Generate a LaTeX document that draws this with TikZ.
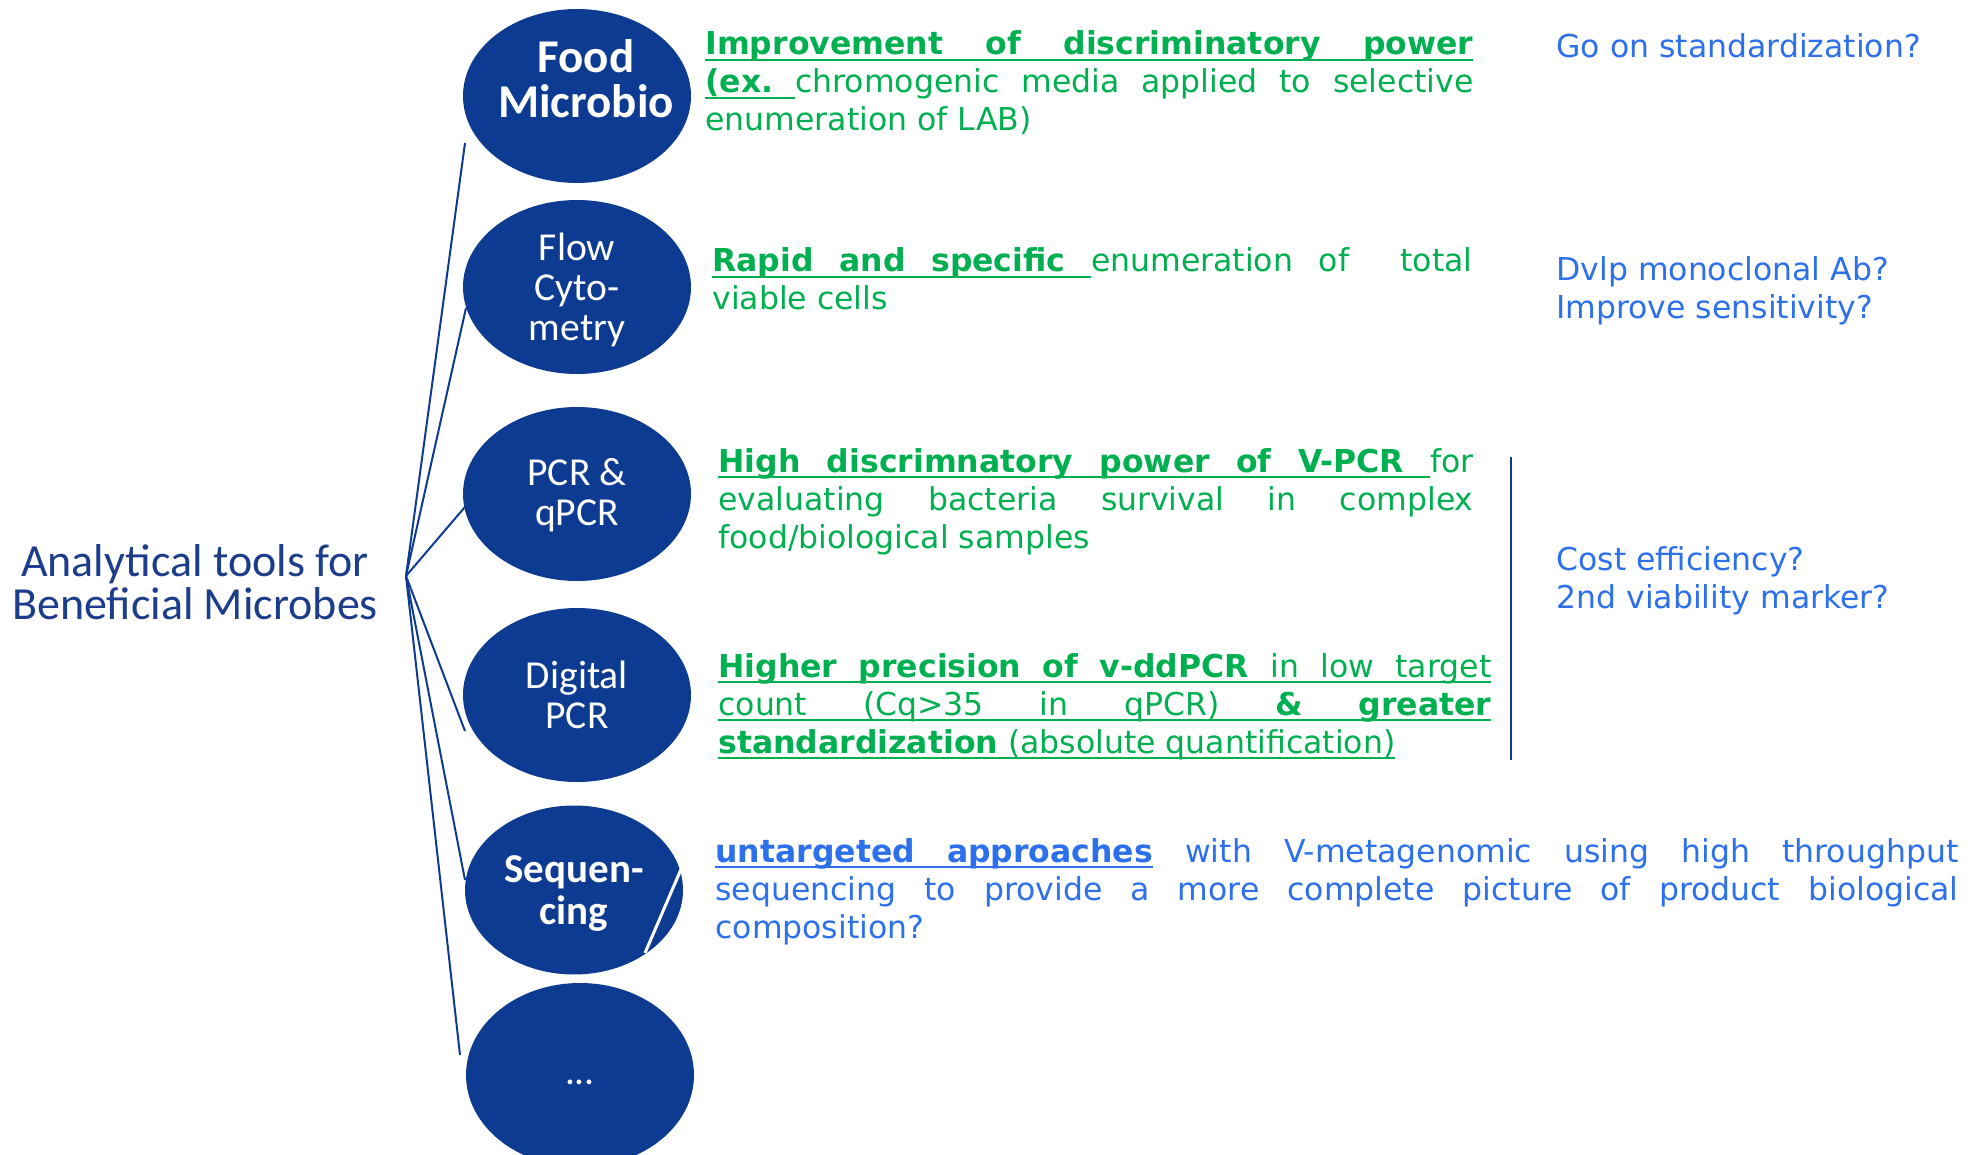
\documentclass[tikz,border=0pt]{standalone}
\usepackage{fontspec}
\setmainfont{DejaVu Sans}
\newfontfamily\calibri{Carlito}
\usetikzlibrary{shapes.geometric}
\definecolor{ellblue}{HTML}{0D3B92}
\definecolor{titleblue}{HTML}{1C3C8C}
\definecolor{ggreen}{HTML}{00B050}
\definecolor{qblue}{HTML}{2D70EC}
\newcommand\myul[1]{\setbox0\hbox{#1}\rlap{\rule[-2.9pt]{\wd0}{0.8pt}}\box0}
\newcommand\ugap{\leaders\hrule height -2.1pt depth 2.9pt\hfill}
\newcommand\lines{\baselineskip=19pt\lineskiplimit=-100pt\lineskip=0pt}
\begin{document}
\begin{tikzpicture}[x=0.5pt,y=-0.5pt,
  oval/.style={ellipse, fill=ellblue, draw=none, inner sep=0, minimum width=114pt, minimum height=87pt},
  ovaltxt/.style={text=white, align=center, inner sep=0, font=\calibri\fontsize{19.8}{20}\selectfont},
  block/.style={anchor=base west, inner sep=0, font=\fontsize{15.75}{19}\selectfont},
  spoke/.style={draw=ellblue, line width=1pt}]
\useasboundingbox (0,0) rectangle (1971,1155);
\clip (0,0) rectangle (1971,1155);

% ellipses
\node[oval] (food) at (577,96) {};
\node[oval] (flow) at (577,287) {};
\node[oval] (pcr) at (577,494) {};
\node[oval] (dig) at (577,695) {};
\node[oval, minimum width=109pt, minimum height=84.5pt] (seq) at (574,890) {};
\node[oval, minimum height=92pt] (more) at (580,1075) {};
\draw[white, line width=1.5pt] (682,867) -- (645,953);

% ellipse labels
\node[ovaltxt, font=\calibri\bfseries\fontsize{23.5}{22.5}\selectfont] (foodT) at (586,79) {Food\\Microbio};
\node[ovaltxt] (flowT) at (577,290) {Flow\\Cyto-\\metry};
\node[ovaltxt] (pcrT) at (577,495.5) {PCR \&\\qPCR};
\node[ovaltxt] (digT) at (577,695) {Digital\\PCR};
\node[ovaltxt, font=\calibri\bfseries\fontsize{20.5}{21}\selectfont] (seqT) at (574,894) {Sequen-\\cing};
\node[ovaltxt] (moreT) at (580,1082) {...};

% title
\node[align=center, text=titleblue, inner sep=0, font=\calibri\fontsize{23}{21.5}\selectfont] (title) at (195,582) {Analytical tools for\\Beneficial Microbes};

% spokes
\coordinate (hub) at (406,576);
\coordinate (eFood) at (465,143);
\coordinate (eFlow) at (466,308);
\coordinate (ePcr) at (482,487);
\coordinate (eDig) at (465,731);
\coordinate (eSeq) at (465,880);
\coordinate (eMore) at (460,1055);
\draw[spoke] (hub) -- (eFood);
\draw[spoke] (hub) -- (eFlow);
\draw[spoke] (hub) -- (ePcr);
\draw[spoke] (hub) -- (eDig);
\draw[spoke] (hub) -- (eSeq);
\draw[spoke] (hub) -- (eMore);

% vertical bracket line
\coordinate (vTop) at (1511,457);
\coordinate (vBot) at (1511,760);
\draw[spoke] (vTop) -- (vBot);

% green blocks
\node[block, text=ggreen] (b1) at (705,55) {\vtop{\lines
\hbox to 384pt{\myul{\bfseries Improvement}\ugap\myul{\bfseries of}\ugap\myul{\bfseries discriminatory}\ugap\myul{\bfseries power}}
\hbox to 384pt{\myul{\bfseries (ex.}\ugap chromogenic\hfill media\hfill applied\hfill to\hfill selective}
\hbox{enumeration of LAB)}}};

\node[block, text=ggreen] (b2) at (712,272) {\vtop{\lines
\hbox to 380pt{\myul{\bfseries Rapid}\ugap\myul{\bfseries and}\ugap\myul{\bfseries specific}\ugap enumeration\hfill of\hfill\hfill total}
\hbox{viable cells}}};

\node[block, text=ggreen] (b3) at (718,472) {\vtop{\lines
\hbox to 377.5pt{\myul{\bfseries High}\ugap\myul{\bfseries discrimnatory}\ugap\myul{\bfseries power}\ugap\myul{\bfseries of}\ugap\myul{\bfseries V-PCR}\ugap for}
\hbox to 377.5pt{evaluating\hfill bacteria\hfill survival\hfill in\hfill complex}
\hbox{food/biological samples}}};

\node[block, text=ggreen] (b4) at (718,677) {\vtop{\lines
\hbox to 386.5pt{\myul{\bfseries Higher}\ugap\myul{\bfseries precision}\ugap\myul{\bfseries of}\ugap\myul{\bfseries v-ddPCR}\ugap\myul{in}\ugap\myul{low}\ugap\myul{target}}
\hbox to 386.5pt{\myul{count}\ugap\myul{(Cq>35}\ugap\myul{in}\ugap\myul{qPCR)}\ugap\myul{\bfseries\&}\ugap\myul{\bfseries greater}}
\hbox{\myul{\textbf{standardization} (absolute quantification)}}}};

% blue block
\node[block, text=qblue] (b5) at (715,862) {\vtop{\lines
\hbox to 621.5pt{\myul{\bfseries untargeted}\ugap\myul{\bfseries approaches}\hfill with\hfill V-metagenomic\hfill using\hfill high\hfill throughput}
\hbox to 621.5pt{sequencing\hfill to\hfill provide\hfill a\hfill more\hfill complete\hfill picture\hfill of\hfill product\hfill biological}
\hbox{composition?}}};

% questions
\node[block, text=qblue] (q1) at (1556,58) {Go on standardization?};
\node[block, text=qblue] (q2) at (1556,281) {\vtop{\lines\hbox{Dvlp monoclonal Ab?}\hbox{Improve sensitivity?}}};
\node[block, text=qblue] (q3) at (1556,570) {\vtop{\lines\hbox{Cost efficiency?}\hbox{2nd viability marker?}}};
\end{tikzpicture}
\end{document}
